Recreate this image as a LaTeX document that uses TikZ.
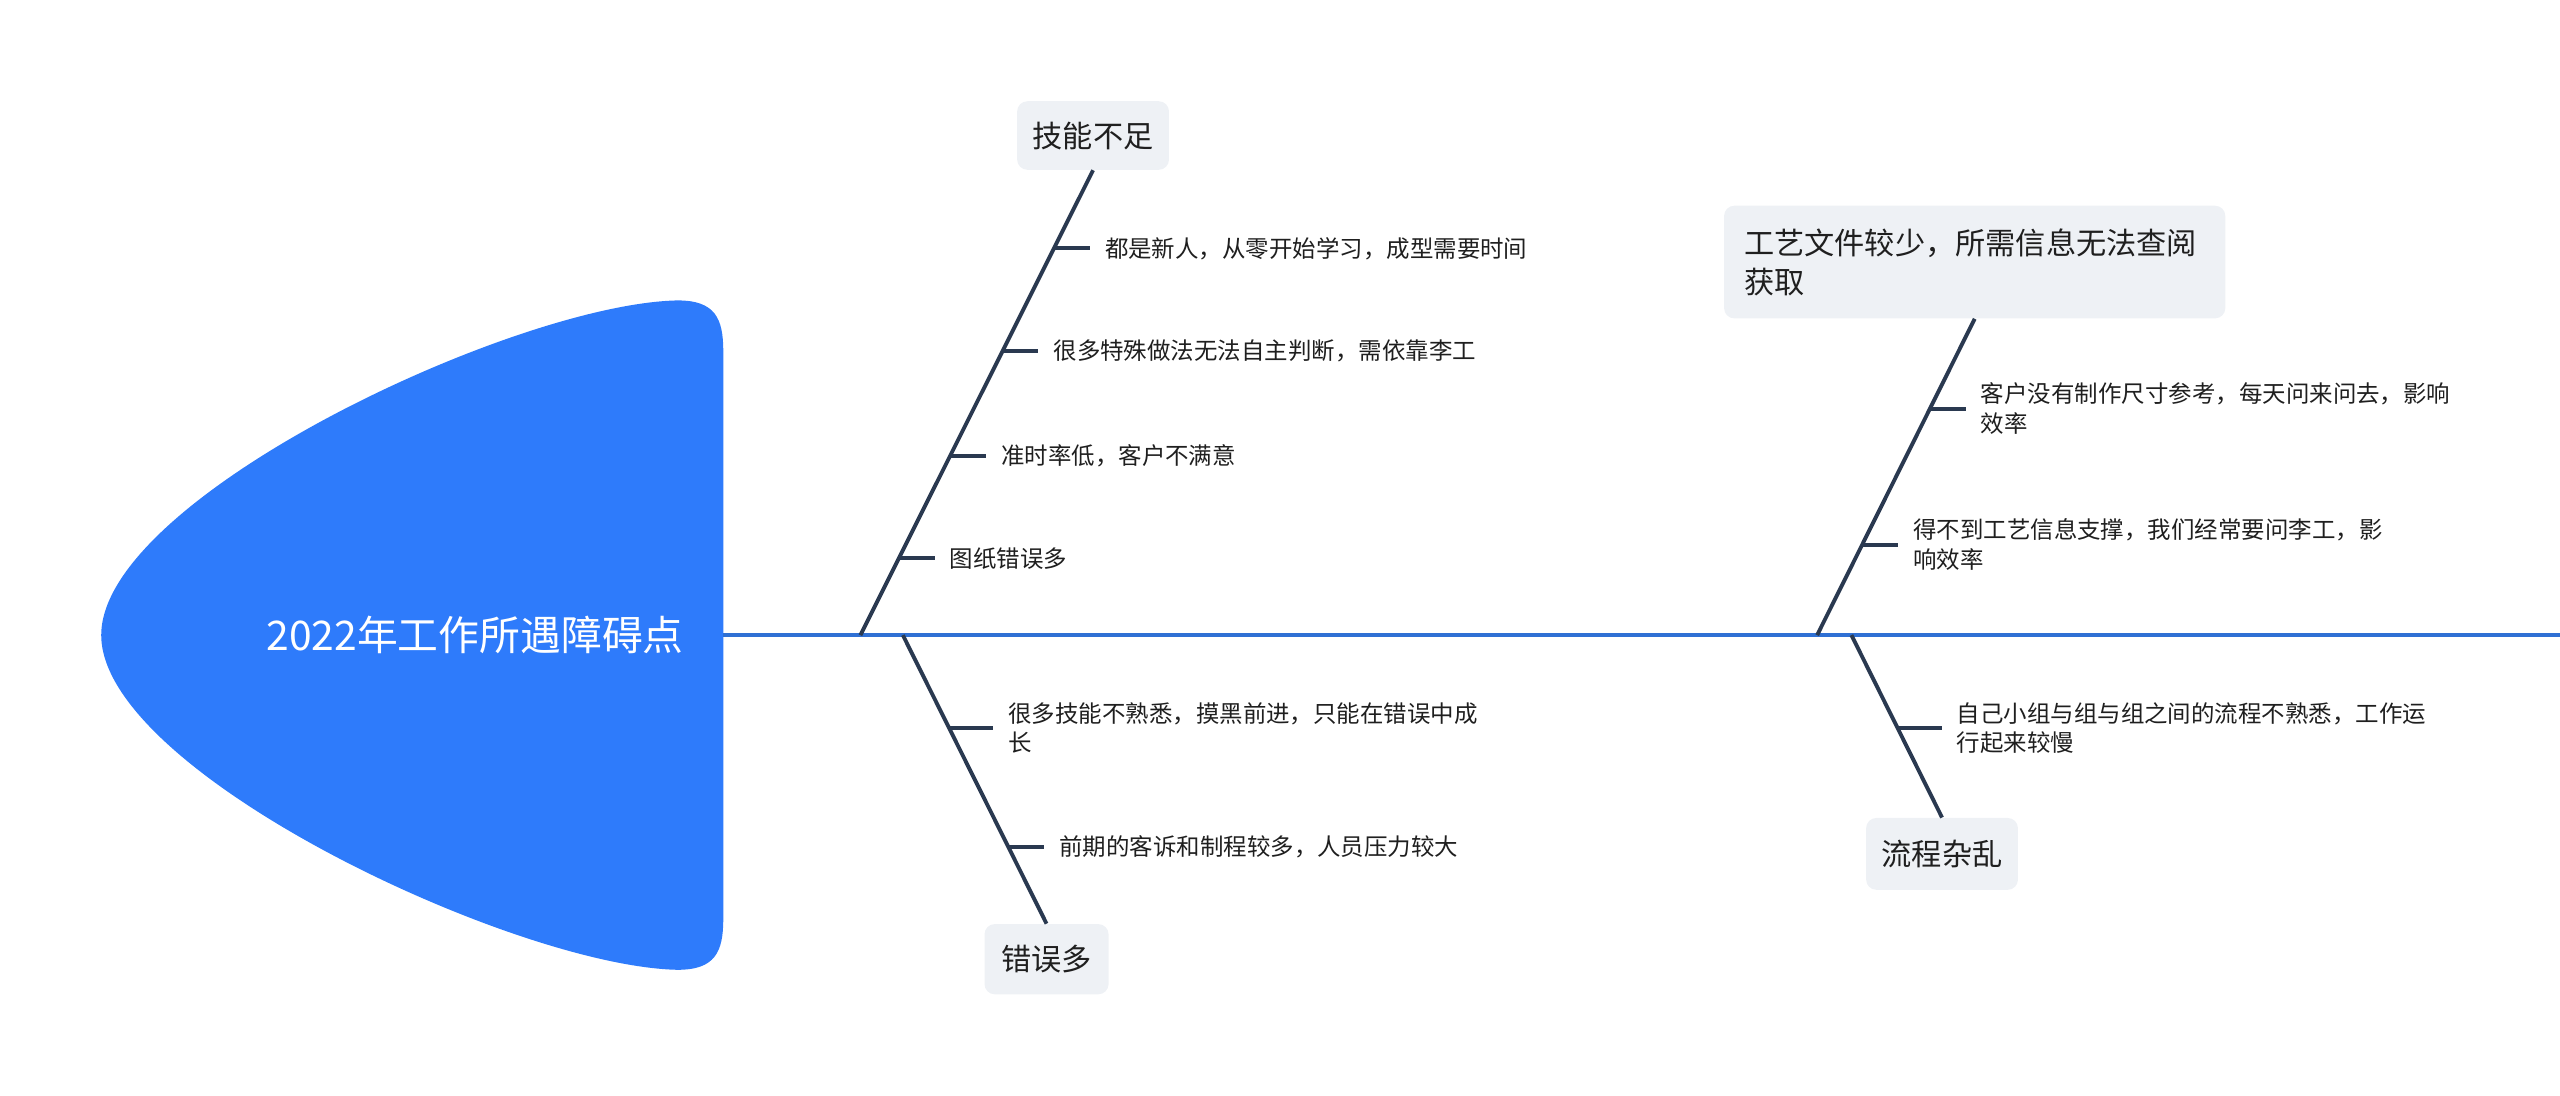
\documentclass[tikz,border=0pt]{standalone}
\usepackage{fontspec}
\setmainfont{Noto Sans CJK SC}
\usetikzlibrary{calc}
\definecolor{headblue}{HTML}{2E7BFB}
\definecolor{spineblue}{HTML}{2F70D4}
\definecolor{bone}{HTML}{2A3950}
\definecolor{boxgray}{HTML}{EEF1F5}
\definecolor{txt}{HTML}{1F1F1F}
\begin{document}
\begin{tikzpicture}[x=0.8pt,y=-0.8pt,
  cat/.style={fill=boxgray, rounded corners=5pt, inner sep=0pt, font=\fontsize{14.8pt}{19.2pt}\selectfont, text=txt},
  item/.style={anchor=west, inner xsep=7.2pt, inner ysep=0pt, align=left, font=\fontsize{11.5pt}{14.4pt}\selectfont, text=txt},
  boneline/.style={draw=bone, line width=1.9pt},
  tickline/.style={draw=bone, line width=1.9pt},
  spineline/.style={draw=spineblue, line width=1.8pt},
]
\useasboundingbox (0,0) rectangle (1568,671);

% head
\path[fill=headblue] (415,184) .. controls (438,184) and (443,195) .. (443,215)
  -- (443,563) .. controls (443,583) and (438,594) .. (415,594)
  .. controls (315,592) and (62,473) .. (62,389)
  .. controls (62,305) and (315,186) .. (415,184) -- cycle;
\node[text=white, font=\fontsize{20pt}{24pt}\selectfont, inner sep=0pt] (head) at (291,389) {2022年工作所遇障碍点};

% spine
\coordinate (sL) at (443,389);
\coordinate (sR) at (1568,389);
\draw[spineline] (sL) -- (sR);

% category nodes
\node[cat, minimum width=74.4pt, minimum height=33.6pt] (k1) at (669.5,83) {技能不足};
\node[cat, minimum width=60.8pt, minimum height=34.4pt] (k2) at (641,587.5) {错误多};
\node[cat, minimum width=245.6pt, minimum height=55.2pt, text width=226pt, align=left] (k3) at (1209.5,160.5) {工艺文件较少，所需信息无法查阅\\获取};
\node[cat, minimum width=74.4pt, minimum height=35.2pt] (k4) at (1189.5,523) {流程杂乱};

% branch roots on spine
\coordinate (b1) at (527,389);
\coordinate (b2) at (553,389);
\coordinate (b3) at (1113,389);
\coordinate (b4) at (1134,389);

\draw[boneline] (b1) -- (k1.south);
\draw[boneline] (b2) -- (k2.north);
\draw[boneline] (b3) -- (k3.south);
\draw[boneline] (b4) -- (k4.north);

% tick points
\path (b1) -- (k1.south) coordinate[pos=0.832] (t11) coordinate[pos=0.611] (t12) coordinate[pos=0.386] (t13) coordinate[pos=0.165] (t14);
\path (b2) -- (k2.north) coordinate[pos=0.322] (t21) coordinate[pos=0.734] (t22);
\path (b3) -- (k3.south) coordinate[pos=0.716] (t31) coordinate[pos=0.286] (t32);
\path (b4) -- (k4.north) coordinate[pos=0.509] (t41);

% items
\node[item] (n11) at ($(t11)+(22,0)$) {都是新人，从零开始学习，成型需要时间};
\node[item] (n12) at ($(t12)+(22,0)$) {很多特殊做法无法自主判断，需依靠李工};
\node[item] (n13) at ($(t13)+(22,0)$) {准时率低，客户不满意};
\node[item] (n14) at ($(t14)+(22,0)$) {图纸错误多};
\node[item] (n21) at ($(t21)+(27,0)$) {很多技能不熟悉，摸黑前进，只能在错误中成\\长};
\node[item] (n22) at ($(t22)+(22,0)$) {前期的客诉和制程较多，人员压力较大};
\node[item] (n31) at ($(t31)+(22,0)$) {客户没有制作尺寸参考，每天问来问去，影响\\效率};
\node[item] (n32) at ($(t32)+(22,0)$) {得不到工艺信息支撑，我们经常要问李工，影\\响效率};
\node[item] (n41) at ($(t41)+(27,0)$) {自己小组与组与组之间的流程不熟悉，工作运\\行起来较慢};

\foreach \t/\n in {t11/n11,t12/n12,t13/n13,t14/n14,t21/n21,t22/n22,t31/n31,t32/n32,t41/n41}
  \draw[tickline] (\t) -- (\n.west);
\end{tikzpicture}
\end{document}
